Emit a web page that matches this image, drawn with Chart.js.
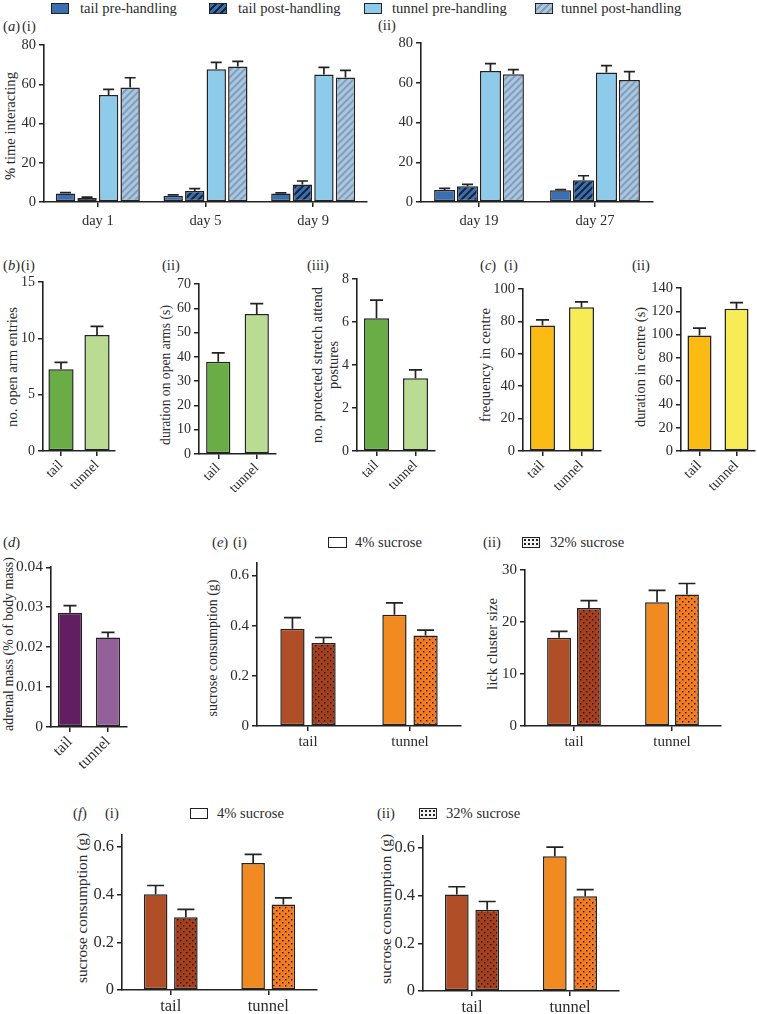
<!DOCTYPE html>
<html>
<head>
<meta charset="utf-8">
<script src="https://cdn.jsdelivr.net/npm/chart.js@4"></script>
<style>
  body { margin: 0; background: #fff; overflow: hidden; }
  #fig { position: relative; width: 757px; height: 1014px; font-family: 'Liberation Serif', 'DejaVu Serif', serif; color: #2b2b2b; }
  #fig canvas, .t, .sw, .yt { position: absolute; }
  .t { font-size: 14.6px; line-height: 16px; white-space: nowrap; }
  .yt { font-size: 14px; line-height: 16px; white-space: nowrap; text-align: center; transform: translate(-50%, -50%) rotate(-90deg); }
  .sw { border: 1.5px solid #222; box-sizing: border-box; }
</style>
</head>
<body>
<div id="fig">
  <!-- top legend -->
  <div class="sw" style="left:51px;top:3px;width:18px;height:11px;background:#3a6fb0"></div>
  <div class="t" style="left:80px;top:0px">tail pre-handling</div>
  <div class="sw" style="left:209px;top:3px;width:18px;height:11px;background:repeating-linear-gradient(135deg,#3a6fb0 0 3px,#16233a 3px 5px)"></div>
  <div class="t" style="left:238px;top:0px">tail post-handling</div>
  <div class="sw" style="left:364px;top:3px;width:18px;height:11px;background:#8ecae9"></div>
  <div class="t" style="left:392px;top:0px">tunnel pre-handling</div>
  <div class="sw" style="left:535px;top:3px;width:18px;height:11px;background:repeating-linear-gradient(135deg,#a5c8e6 0 3px,#8a9cb4 3px 5px)"></div>
  <div class="t" style="left:561px;top:0px">tunnel post-handling</div>

  <!-- panel labels -->
  <div class="t" style="left:3px;top:18px">(<i>a</i>)</div>
  <div class="t" style="left:22px;top:18px">(i)</div>
  <div class="t" style="left:378px;top:17px">(ii)</div>
  <div class="t" style="left:3px;top:257px">(<i>b</i>)</div>
  <div class="t" style="left:21px;top:257px">(i)</div>
  <div class="t" style="left:162px;top:257px">(ii)</div>
  <div class="t" style="left:307px;top:257px">(iii)</div>
  <div class="t" style="left:480px;top:257px">(<i>c</i>)</div>
  <div class="t" style="left:504px;top:257px">(i)</div>
  <div class="t" style="left:632px;top:257px">(ii)</div>
  <div class="t" style="left:3px;top:534px">(<i>d</i>)</div>
  <div class="t" style="left:212px;top:534px">(<i>e</i>)</div>
  <div class="t" style="left:233px;top:534px">(i)</div>
  <div class="t" style="left:483px;top:534px">(ii)</div>
  <div class="t" style="left:73px;top:805px">(<i>f</i>)</div>
  <div class="t" style="left:105px;top:805px">(i)</div>
  <div class="t" style="left:377px;top:805px">(ii)</div>

  <!-- sucrose legends -->
  <div class="sw" style="left:328px;top:537px;width:19px;height:11px;background:#fff"></div>
  <div class="t" style="left:355px;top:534px">4% sucrose</div>
  <div class="sw" style="left:522px;top:537px;width:18px;height:11px;background-color:#f2f2f2;background-image:radial-gradient(#222 0.8px,transparent 1.1px);background-size:4px 4px"></div>
  <div class="t" style="left:550px;top:534px">32% sucrose</div>
  <div class="sw" style="left:190px;top:808px;width:18px;height:11px;background:#fff"></div>
  <div class="t" style="left:217px;top:805px">4% sucrose</div>
  <div class="sw" style="left:419px;top:808px;width:18px;height:11px;background-color:#f2f2f2;background-image:radial-gradient(#222 0.8px,transparent 1.1px);background-size:4px 4px"></div>
  <div class="t" style="left:446px;top:805px">32% sucrose</div>

  <!-- y axis titles (data-len: length of the longest line in the reference, px) -->
  <div class="yt" data-len="108" style="left:10px;top:126px">% time interacting</div>
  <div class="yt" data-len="120" style="left:12px;top:367px">no. open arm entries</div>
  <div class="yt" data-len="140" style="left:166px;top:375px">duration on open arms (s)</div>
  <div class="yt" data-len="156" style="left:325px;top:365px">no. protected stretch attend<br>postures</div>
  <div class="yt" data-len="114" style="left:485px;top:365px">frequency in centre</div>
  <div class="yt" data-len="120" style="left:640px;top:367px">duration in centre (s)</div>
  <div class="yt" data-len="174" style="left:9px;top:644px">adrenal mass (% of body mass)</div>
  <div class="yt" data-len="137" style="left:213px;top:648px">sucrose consumption (g)</div>
  <div class="yt" data-len="92" style="left:492px;top:644px">lick cluster size</div>
  <div class="yt" data-len="150" style="left:82px;top:908px">sucrose consumption (g)</div>
  <div class="yt" data-len="150" style="left:386px;top:909px">sucrose consumption (g)</div>
</div>

<script>
// (a)(i) % time interacting, days 1-9
const daysI = ['day 1', 'day 5', 'day 9'];
const tailPreI = [4.3, 3.2, 4.3];
const tailPreISem = [0.5, 0.4, 0.3];
const tailPostI = [2.0, 5.6, 8.9];
const tailPostISem = [0.5, 1.2, 1.8];
const tunnelPreI = [54.5, 67.7, 65.0];
const tunnelPreISem = [2.9, 3.4, 3.6];
const tunnelPostI = [58.4, 69.1, 63.5];
const tunnelPostISem = [4.9, 2.6, 3.6];

// (a)(ii) days 19-27
const daysII = ['day 19', 'day 27'];
const tailPreII = [6.0, 5.9];
const tailPreIISem = [0.9, 0.3];
const tailPostII = [7.9, 10.9];
const tailPostIISem = [1.0, 2.3];
const tunnelPreII = [65.9, 65.1];
const tunnelPreIISem = [3.7, 3.5];
const tunnelPostII = [64.3, 61.4];
const tunnelPostIISem = [2.3, 4.2];

// (b)-(d) tail vs tunnel
const groups = ['tail', 'tunnel'];
const openArmEntries = [7.25, 10.3];
const openArmEntriesSem = [0.62, 0.77];
const openArmDuration = [38.0, 57.6];
const openArmDurationSem = [3.6, 4.3];
const stretchAttend = [6.17, 3.38];
const stretchAttendSem = [0.85, 0.39];
const centreFreq = [77.4, 88.7];
const centreFreqSem = [3.5, 3.3];
const centreDuration = [99.3, 122.2];
const centreDurationSem = [6.3, 5.2];
const adrenalMass = [0.0286, 0.0224];
const adrenalMassSem = [0.0018, 0.0013];

// (e) sucrose consumption and lick cluster size
const sucroseE4 = [0.388, 0.444];
const sucroseE4Sem = [0.044, 0.047];
const sucroseE32 = [0.331, 0.3605];
const sucroseE32Sem = [0.022, 0.022];
const lick4 = [16.96, 23.8];
const lick4Sem = [1.25, 2.3];
const lick32 = [22.7, 25.3];
const lick32Sem = [1.4, 2.1];

// (f) sucrose consumption
const sucroseF1_4 = [0.401, 0.532];
const sucroseF1_4Sem = [0.037, 0.036];
const sucroseF1_32 = [0.305, 0.358];
const sucroseF1_32Sem = [0.033, 0.028];
const sucroseF2_4 = [0.404, 0.565];
const sucroseF2_4Sem = [0.033, 0.038];
const sucroseF2_32 = [0.341, 0.397];
const sucroseF2_32Sem = [0.034, 0.028];

const INK = '#222';
const FONT = "'Liberation Serif', 'DejaVu Serif', serif";
Chart.defaults.font.family = FONT;
Chart.defaults.font.size = 14;
Chart.defaults.color = '#2b2b2b';

// size each rotated axis title so its longest line matches the reference length
const measure = document.createElement('canvas').getContext('2d');
measure.font = '20px ' + FONT;
document.querySelectorAll('.yt').forEach(el => {
    const longest = Math.max(...el.innerHTML.split('<br>').map(s => measure.measureText(s.replace(/&amp;/g, '&')).width));
    el.style.fontSize = (20 * (+el.dataset.len) / longest).toFixed(2) + 'px';
});

function stripes(base, line) {
    const c = document.createElement('canvas');
    c.width = c.height = 7;
    const g = c.getContext('2d');
    g.fillStyle = base;
    g.fillRect(0, 0, 7, 7);
    g.strokeStyle = line;
    g.lineWidth = 2;
    g.beginPath();
    g.moveTo(0, 7); g.lineTo(7, 0);
    g.moveTo(-1, 1); g.lineTo(1, -1);
    g.moveTo(6, 8); g.lineTo(8, 6);
    g.stroke();
    return g.createPattern(c, 'repeat');
}

function dots(base) {
    const c = document.createElement('canvas');
    c.width = c.height = 6;
    const g = c.getContext('2d');
    g.fillStyle = base;
    g.fillRect(0, 0, 6, 6);
    g.fillStyle = '#151515';
    g.fillRect(1, 1, 1.4, 1.4);
    g.fillRect(4, 4, 1.4, 1.4);
    return g.createPattern(c, 'repeat');
}

// one-sided error bars (mean + SEM)
const errorBars = {
    id: 'errorBars',
    afterDatasetsDraw(chart, args, opts) {
        const ctx = chart.ctx;
        const y = chart.scales.y;
        ctx.save();
        ctx.strokeStyle = INK;
        ctx.lineWidth = 1.7;
        chart.data.datasets.forEach((ds, i) => {
            chart.getDatasetMeta(i).data.forEach((bar, j) => {
                const top = y.getPixelForValue(ds.data[j] + ds.sem[j]);
                const half = opts.cap / 2;
                ctx.beginPath();
                ctx.moveTo(bar.x, bar.y);
                ctx.lineTo(bar.x, top);
                ctx.moveTo(bar.x - half, top);
                ctx.lineTo(bar.x + half, top);
                ctx.stroke();
            });
        });
        ctx.restore();
    }
};

const fig = document.getElementById('fig');

function panel(s) {
    const yW = 36, padTop = 12, padRight = 6;
    const c = document.createElement('canvas');
    c.width = yW + (s.axisEnd - s.axisX) + padRight;
    c.height = padTop + (s.yZero - s.yTop) + s.xH;
    c.style.left = (s.axisX - yW) + 'px';
    c.style.top = (s.yTop - padTop) + 'px';
    fig.appendChild(c);

    new Chart(c, {
        type: 'bar',
        data: {
            labels: s.labels,
            datasets: s.datasets.map(d => Object.assign({
                borderColor: INK,
                borderWidth: 1.5,
                borderSkipped: false,
                categoryPercentage: s.catPct,
                barPercentage: s.barPct
            }, d))
        },
        options: {
            responsive: false,
            animation: false,
            devicePixelRatio: 1,
            layout: { padding: { top: padTop, right: padRight, left: 0, bottom: 0 } },
            plugins: {
                legend: { display: false },
                tooltip: { enabled: false },
                errorBars: { cap: s.cap }
            },
            scales: {
                x: {
                    afterFit: sc => { sc.height = s.xH; },
                    grid: { drawOnChartArea: false, offset: false, tickLength: 5, color: INK, lineWidth: 1.5 },
                    border: { color: INK, width: 1.6 },
                    ticks: { autoSkip: false, maxRotation: s.rot, minRotation: s.rot, padding: s.tickPad,
                        color: '#2b2b2b', font: { size: s.font } }
                },
                y: {
                    min: 0,
                    max: s.yMax,
                    afterFit: sc => { sc.width = yW; },
                    afterBuildTicks: sc => {
                        const t = [];
                        for (let k = 0; k * s.step <= s.yMax + 1e-9; k++) t.push({ value: +(k * s.step).toFixed(6) });
                        sc.ticks = t;
                    },
                    grid: { drawOnChartArea: false, tickLength: 5, color: INK, lineWidth: 1.5 },
                    border: { color: INK, width: 1.6 },
                    ticks: { padding: 3, color: '#2b2b2b', font: { size: s.font } }
                }
            }
        },
        plugins: [errorBars]
    });
}

const BLUE_DARK = '#3a6fb0', BLUE_LIGHT = '#8ecae9';
const GREEN_DARK = '#6aad46', GREEN_LIGHT = '#b9dc92';
const AMBER = '#fbbb12', YELLOW = '#f7ec55';
const PURPLE_DARK = '#611e60', PURPLE_LIGHT = '#946099';
const RUST = '#b04f27', ORANGE = '#f28a22';
const RUST_DOT = dots('#a63f1e'), ORANGE_DOT = dots('#f47b22');

function handlingSets(pre, preSem, post, postSem, tpre, tpreSem, tpost, tpostSem) {
    return [
        { data: pre, sem: preSem, backgroundColor: BLUE_DARK },
        { data: post, sem: postSem, backgroundColor: stripes(BLUE_DARK, '#16233a') },
        { data: tpre, sem: tpreSem, backgroundColor: BLUE_LIGHT },
        { data: tpost, sem: tpostSem, backgroundColor: stripes('#a5c8e6', '#8a9cb4') }
    ];
}

// (a)
panel({ axisX: 44, axisEnd: 367, yTop: 45, yZero: 202, yMax: 80, step: 20, xH: 32, rot: 0, tickPad: 5, font: 14.5,
    catPct: 0.8, barPct: 0.9, cap: 11, labels: daysI,
    datasets: handlingSets(tailPreI, tailPreISem, tailPostI, tailPostISem, tunnelPreI, tunnelPreISem, tunnelPostI, tunnelPostISem) });
panel({ axisX: 421, axisEnd: 653, yTop: 43, yZero: 202, yMax: 80, step: 20, xH: 32, rot: 0, tickPad: 5, font: 14.5,
    catPct: 0.79, barPct: 0.92, cap: 11, labels: daysII,
    datasets: handlingSets(tailPreII, tailPreIISem, tailPostII, tailPostIISem, tunnelPreII, tunnelPreIISem, tunnelPostII, tunnelPostIISem) });

// (b), (c), (d)
function pair(data, sem, colors) {
    return [{ data: data, sem: sem, backgroundColor: colors }];
}
const rotated = { xH: 52, rot: 45, tickPad: 1, barPct: 1, cap: 13, labels: groups };
panel(Object.assign({ axisX: 43, axisEnd: 115, yTop: 282, yZero: 451, yMax: 15, step: 5, catPct: 0.7, font: 14,
    datasets: pair(openArmEntries, openArmEntriesSem, [GREEN_DARK, GREEN_LIGHT]) }, rotated));
panel(Object.assign({ axisX: 199, axisEnd: 276, yTop: 284, yZero: 454, yMax: 70, step: 10, catPct: 0.63, font: 14,
    datasets: pair(openArmDuration, openArmDurationSem, [GREEN_DARK, GREEN_LIGHT]) }, rotated));
panel(Object.assign({ axisX: 357, axisEnd: 435, yTop: 279, yZero: 451, yMax: 8, step: 2, catPct: 0.64, font: 14,
    datasets: pair(stretchAttend, stretchAttendSem, [GREEN_DARK, GREEN_LIGHT]) }, rotated));
panel(Object.assign({ axisX: 523, axisEnd: 601, yTop: 289, yZero: 451, yMax: 100, step: 20, catPct: 0.64, font: 14.5,
    datasets: pair(centreFreq, centreFreqSem, [AMBER, YELLOW]) }, rotated));
panel(Object.assign({ axisX: 681, axisEnd: 755, yTop: 288, yZero: 451, yMax: 140, step: 20, catPct: 0.65, font: 14.5,
    datasets: pair(centreDuration, centreDurationSem, [AMBER, YELLOW]) }, rotated));
panel(Object.assign({ axisX: 51, axisEnd: 127, yTop: 567, yZero: 727, yMax: 0.04, step: 0.01, catPct: 0.64, font: 15.5,
    datasets: pair(adrenalMass, adrenalMassSem, [PURPLE_DARK, PURPLE_LIGHT]) }, rotated));

// (e), (f)
function sucroseSets(d4, s4, d32, s32) {
    return [
        { data: d4, sem: s4, backgroundColor: [RUST, ORANGE] },
        { data: d32, sem: s32, backgroundColor: [RUST_DOT, ORANGE_DOT] }
    ];
}
const upright = { xH: 30, rot: 0, tickPad: 2, cap: 17, labels: groups };
panel(Object.assign({ axisX: 257, axisEnd: 461, yTop: 563, yZero: 726, yMax: 0.65, step: 0.2, catPct: 0.61, barPct: 0.78, font: 15,
    datasets: sucroseSets(sucroseE4, sucroseE4Sem, sucroseE32, sucroseE32Sem) }, upright));
panel(Object.assign({ axisX: 525, axisEnd: 721, yTop: 570, yZero: 726, yMax: 30, step: 10, catPct: 0.61, barPct: 0.8, font: 15,
    datasets: sucroseSets(lick4, lick4Sem, lick32, lick32Sem) }, upright));
panel(Object.assign({ axisX: 122, axisEnd: 317, yTop: 834, yZero: 990, yMax: 0.65, step: 0.2, catPct: 0.62, barPct: 0.78, font: 16.5,
    datasets: sucroseSets(sucroseF1_4, sucroseF1_4Sem, sucroseF1_32, sucroseF1_32Sem) }, upright));
panel(Object.assign({ axisX: 423, axisEnd: 619, yTop: 835, yZero: 991, yMax: 0.65, step: 0.2, catPct: 0.62, barPct: 0.78, font: 16.5,
    datasets: sucroseSets(sucroseF2_4, sucroseF2_4Sem, sucroseF2_32, sucroseF2_32Sem) }, upright));
</script>
</body>
</html>
